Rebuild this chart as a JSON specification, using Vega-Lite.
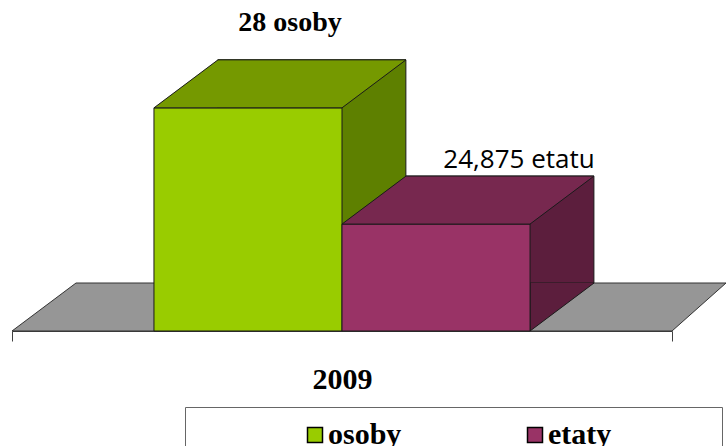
{
  "$schema": "https://vega.github.io/schema/vega-lite/v6.json",
  "width": 660,
  "height": 331,
  "autosize": {"type": "none"},
  "padding": {"left": 12, "top": 0, "right": 54, "bottom": 115},
  "background": "white",
  "config": {"view": {"stroke": null}},
  "data": {
    "values": [
      {"year": "2009", "series": "osoby", "value": 28, "label": "28 osoby"},
      {"year": "2009", "series": "etaty", "value": 24.875, "label": "24,875 etatu"}
    ]
  },
  "encoding": {
    "x": {
      "field": "year",
      "type": "nominal",
      "scale": {"paddingInner": 0, "paddingOuter": 0},
      "axis": {
        "title": null,
        "tickBand": "extent",
        "domainColor": "#404040",
        "domainWidth": 1,
        "tickColor": "#404040",
        "tickSize": 10,
        "labelAngle": 0,
        "labelFont": "Liberation Serif",
        "labelFontWeight": "bold",
        "labelFontSize": 30,
        "labelColor": "#000000",
        "labelBaseline": "alphabetic",
        "labelPadding": 47
      }
    }
  },
  "layer": [
    {
      "transform": [{"filter": "datum.series === 'osoby'"}],
      "mark": {
        "type": "point",
        "shape": "M-0.825,0 L-0.665,-0.12 L0.96,-0.12 L0.825,0 Z",
        "size": 640000,
        "filled": true,
        "opacity": 1
      },
      "encoding": {
        "y": {"datum": 22, "type": "quantitative", "scale": {"domain": [22, 30.9], "nice": false, "zero": false}, "axis": null},
        "fill": {"value": "#969696"},
        "stroke": {"value": "#333333"},
        "strokeWidth": {"value": 1}
      }
    },
    {
      "mark": {"type": "bar", "yOffset": -48, "y2Offset": -48},
      "encoding": {
        "xOffset": {"field": "series", "type": "nominal", "scale": {"type": "band", "domain": ["osoby", "etaty"], "paddingOuter": 0.755, "paddingInner": 0, "align": 0.725}},
        "y": {"field": "value", "type": "quantitative", "scale": {"domain": [22, 30.9], "nice": false, "zero": false}, "axis": null},
        "y2": {"datum": 22},
        "color": {"field": "series", "type": "nominal", "scale": {"domain": ["osoby", "etaty"], "range": ["#5e8000", "#5c1e3d"]}, "legend": null},
        "stroke": {"value": "#1a1a1a"},
        "strokeWidth": {"value": 1}
      }
    },
    {
      "mark": {
        "type": "point",
        "shape": "M0.94,-0.48 L0.94,0 L1.58,-0.48",
        "size": 40000,
        "filled": true,
        "opacity": 1
      },
      "encoding": {
        "xOffset": {"field": "series", "type": "nominal", "scale": {"type": "band", "domain": ["osoby", "etaty"], "paddingOuter": 0.755, "paddingInner": 0}},
        "y": {"datum": 22, "type": "quantitative"},
        "fill": {"field": "series", "type": "nominal", "scale": {"domain": ["osoby", "etaty"], "range": ["#5e8000", "#5c1e3d"]}, "legend": null},
        "stroke": {"value": "#1a1a1a"},
        "strokeWidth": {"value": 1}
      }
    },
    {
      "mark": {"type": "bar"},
      "encoding": {
        "xOffset": {"field": "series", "type": "nominal", "scale": {"type": "band", "domain": ["osoby", "etaty"], "paddingOuter": 0.755, "paddingInner": 0}},
        "y": {"field": "value", "type": "quantitative"},
        "y2": {"datum": 22},
        "stroke": {"value": "#1a1a1a"},
        "strokeWidth": {"value": 1},
        "color": {
          "field": "series",
          "type": "nominal",
          "scale": {"domain": ["osoby", "etaty"], "range": ["#99cc00", "#993366"]},
          "legend": {
            "orient": "none",
            "legendX": 173,
            "legendY": 407,
            "direction": "horizontal",
            "title": null,
            "strokeColor": "#666666",
            "padding": 13,
            "symbolType": "square",
            "symbolSize": 225,
            "symbolStrokeColor": "#000000",
            "symbolStrokeWidth": 1.5,
            "symbolOffset": 102,
            "labelOffset": -2,
            "columnPadding": 16,
            "labelLimit": 400,
            "labelFont": "Liberation Serif",
            "labelFontWeight": "bold",
            "labelFontSize": 30,
            "labelColor": "#000000",
            "labelExpr": "datum.label === 'etaty' ? 'etaty             \u200b' : datum.label"
          }
        }
      }
    },
    {
      "mark": {
        "type": "point",
        "shape": "M-0.94,0 L-0.30,-0.48 L1.58,-0.48 L0.94,0 Z",
        "size": 40000,
        "filled": true,
        "opacity": 1
      },
      "encoding": {
        "xOffset": {"field": "series", "type": "nominal", "scale": {"type": "band", "domain": ["osoby", "etaty"], "paddingOuter": 0.755, "paddingInner": 0}},
        "y": {"field": "value", "type": "quantitative"},
        "fill": {"field": "series", "type": "nominal", "scale": {"domain": ["osoby", "etaty"], "range": ["#759900", "#77284f"]}, "legend": null},
        "stroke": {"value": "#1a1a1a"},
        "strokeWidth": {"value": 1}
      }
    },
    {
      "transform": [{"filter": "datum.series === 'osoby'"}],
      "mark": {
        "type": "text",
        "font": "Liberation Serif",
        "fontWeight": "bold",
        "fontSize": 28,
        "color": "#000000",
        "baseline": "alphabetic",
        "align": "center",
        "dx": 42,
        "dy": -77
      },
      "encoding": {
        "xOffset": {"field": "series", "type": "nominal", "scale": {"type": "band", "domain": ["osoby", "etaty"], "paddingOuter": 0.755, "paddingInner": 0}},
        "y": {"field": "value", "type": "quantitative"},
        "text": {"field": "label"}
      }
    },
    {
      "transform": [{"filter": "datum.series === 'etaty'"}],
      "mark": {
        "type": "text",
        "font": "Open Sans",
        "fontSize": 26,
        "color": "#000000",
        "baseline": "alphabetic",
        "align": "center",
        "dx": 83,
        "dy": -56
      },
      "encoding": {
        "xOffset": {"field": "series", "type": "nominal", "scale": {"type": "band", "domain": ["osoby", "etaty"], "paddingOuter": 0.755, "paddingInner": 0}},
        "y": {"field": "value", "type": "quantitative"},
        "text": {"field": "label"}
      }
    }
  ],
  "resolve": {"scale": {"color": "independent", "fill": "independent", "xOffset": "independent"}}
}
